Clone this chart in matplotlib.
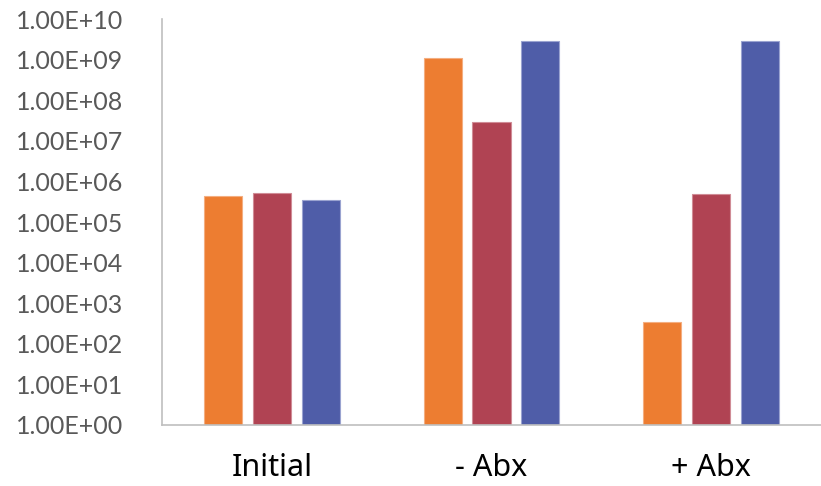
import matplotlib
matplotlib.use("Agg")
import matplotlib.pyplot as plt
import numpy as np
from matplotlib.ticker import FixedLocator, FuncFormatter, NullLocator

plt.rcParams['font.family'] = ['Lato', 'DejaVu Sans']

categories = ["Initial", "- Abx", "+ Abx"]
series_a = [4.3e5, 1.07e9, 3.4e2]   # orange
series_b = [5.1e5, 2.9e7, 4.8e5]    # red
series_c = [3.4e5, 2.9e9, 2.9e9]    # blue
colors = ["#ED7D31", "#B04353", "#4F5DA8"]
edge_colors = ["#F4AE80", "#D08C96", "#9AA3D0"]

fig = plt.figure(figsize=(8.21, 4.86), dpi=100)
ax = fig.add_axes([162/821, 1-425/486, 1-162/821, (425-19)/486])

x = np.arange(len(categories))
width = 0.173
step = 0.223
for i, (vals, c, ec) in enumerate(zip([series_a, series_b, series_c], colors, edge_colors)):
    ax.bar(x + (i-1)*step, vals, width=width, color=c, edgecolor=ec, linewidth=0.8,
           bottom=1, zorder=2)

ax.set_yscale('log')
ax.set_ylim(1, 1e10)
ax.set_xlim(-0.5, 2.5)
ax.yaxis.set_major_locator(FixedLocator([10.0**k for k in range(11)]))
ax.yaxis.set_minor_locator(NullLocator())
ax.yaxis.set_major_formatter(FuncFormatter(lambda v, p: "1.00E+%02d" % int(round(np.log10(v)))))
ax.set_xticks(x)
ax.set_xticklabels(categories, family=['Noto Sans', 'DejaVu Sans'])

ax.tick_params(axis='y', length=0, pad=28, labelsize=18, labelcolor='#595959')
ax.tick_params(axis='x', length=0, pad=20, labelsize=22, labelcolor='#000000')

for s in ['top', 'right']:
    ax.spines[s].set_visible(False)
for s in ['left', 'bottom']:
    ax.spines[s].set_color('#BFBFBF')
    ax.spines[s].set_linewidth(1.2)

fig.savefig("out.png", dpi=100)
